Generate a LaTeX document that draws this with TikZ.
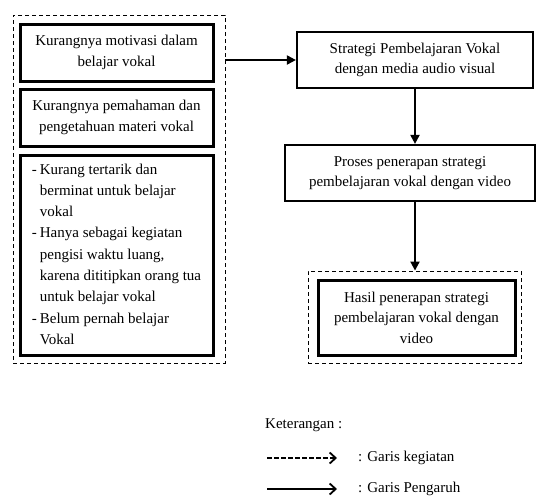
\documentclass[tikz,border=0pt]{standalone}
\usepackage{fontspec}
\setmainfont{Liberation Serif}
\usetikzlibrary{arrows.meta}
\begin{document}
\begin{tikzpicture}[x=1pt,y=-1pt,
  every node/.style={font=\fontsize{15}{20.5}\selectfont},
  heavybox/.style={draw, line width=3pt, inner sep=0pt, align=center},
  mainbox/.style={draw, line width=2.2pt, inner sep=0pt, align=center},
  dashbox/.style={draw, line width=0.9pt, dash pattern=on 4pt off 3pt, inner sep=0pt},
  flow/.style={line width=2pt, -{Triangle[length=9pt,width=9pt]}},
  legarrow/.style={line width=1.8pt, -{Straight Barb[length=6pt,width=11pt]}},
]
\useasboundingbox (0,0) rectangle (536,499);

% left group
\node[dashbox, minimum width=212pt, minimum height=348pt] (grp) at (119,189) {};
\node[heavybox, minimum width=193pt, minimum height=57pt] (b1) at (116.5,52.5)
  {Kurangnya motivasi dalam\\belajar vokal};
\node[heavybox, minimum width=193pt, minimum height=57pt] (b2) at (116.5,117.5)
  {Kurangnya pemahaman dan\\pengetahuan materi vokal};
\node[heavybox, minimum width=193pt, minimum height=200pt] (b3) at (116.5,255)
  {\renewcommand\arraystretch{1.037}%
   \begin{tabular}{@{}l@{\hspace{3pt}}l@{}}
   - & Kurang tertarik dan\\
     & berminat untuk belajar\\
     & vokal\\
   - & Hanya sebagai kegiatan\\
     & pengisi waktu luang,\\
     & karena dititipkan orang tua\\
     & untuk belajar vokal\\
   - & Belum pernah belajar\\
     & Vokal
   \end{tabular}};

% right column
\node[mainbox, minimum width=236pt, minimum height=56pt] (A) at (415,60)
  {Strategi Pembelajaran Vokal\\dengan media audio visual};
\node[mainbox, minimum width=250pt, minimum height=56pt] (B) at (410,173)
  {Proses penerapan strategi\\pembelajaran vokal dengan video};
\node[dashbox, minimum width=213pt, minimum height=92pt] (Cd) at (414.5,317) {};
\node[heavybox, minimum width=197pt, minimum height=75pt] (C) at (416.5,317.5)
  {Hasil penerapan strategi\\pembelajaran vokal dengan\\video};

% connectors
\draw[flow] (grp.east |- A.west) -- (A.west);
\draw[flow] (A.south) -- (A.south |- B.north);
\draw[flow] (A.south |- B.south) -- (A.south |- Cd.north);

% legend
\node[anchor=base west, inner sep=0pt] (ket) at (265,428) {Keterangan :};
\coordinate (l1s) at (267,458);
\coordinate (l1e) at (337,458);
\coordinate (l2s) at (267,489);
\coordinate (l2e) at (337,489);
\draw[legarrow, dash pattern=on 5pt off 2pt] (l1s) -- (l1e);
\draw[legarrow] (l2s) -- (l2e);
\node[anchor=west, inner sep=0pt] (g1) at (358,458) {: Garis kegiatan};
\node[anchor=west, inner sep=0pt] (g2) at (358,489) {: Garis Pengaruh};
\end{tikzpicture}
\end{document}
